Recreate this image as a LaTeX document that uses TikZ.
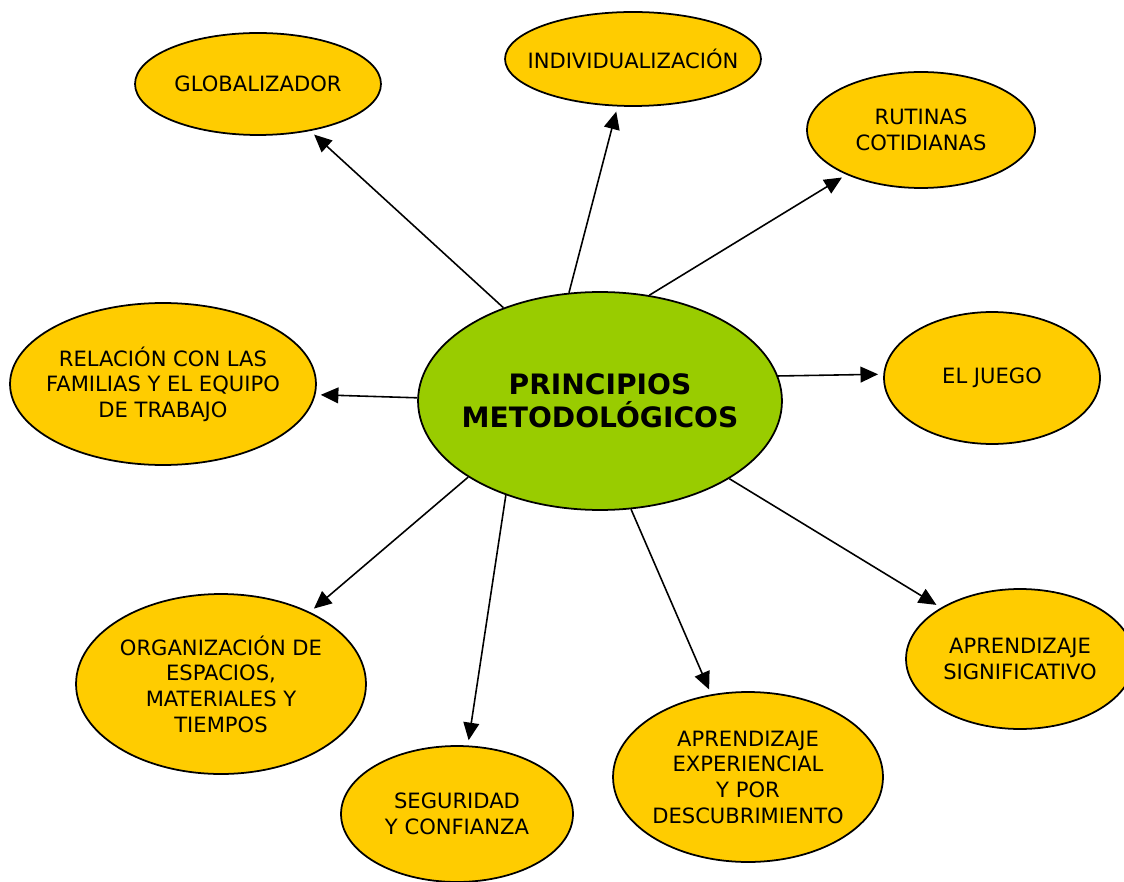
\documentclass[tikz,border=0pt]{standalone}
\usepackage{fontspec}
\setmainfont{DejaVu Sans}
\usetikzlibrary{shapes.geometric,arrows.meta}
\definecolor{amarillo}{HTML}{FFCC00}
\definecolor{verde}{HTML}{99CC00}
\begin{document}
\begin{tikzpicture}[x=0.02cm, y=0.02cm,
  bubble/.style={ellipse, draw=black, line width=1pt, fill=amarillo, align=center,
    inner sep=0pt, inner xsep=-40pt, font=\fontsize{12}{14.6}\selectfont},
  arrow/.style={-{Triangle[length=10pt,width=9pt]}, line width=0.9pt, shorten >=3pt}]
\useasboundingbox (0,0) rectangle (1124,-881);
\node [bubble, fill=verde, minimum width=7.28cm, minimum height=4.36cm,
  font=\fontsize{16}{18.7}\selectfont\bfseries] (c) at (600,-401) {PRINCIPIOS\\METODOLÓGICOS};
\node [bubble, minimum width=4.92cm, minimum height=2.04cm] (glob) at (258,-84) {GLOBALIZADOR};
\node [bubble, minimum width=5.12cm, minimum height=1.88cm] (ind) at (633,-59) {INDIVIDUALIZACIÓN};
\node [bubble, minimum width=4.56cm, minimum height=2.32cm] (rut) at (921,-130) {RUTINAS\\COTIDIANAS};
\node [bubble, minimum width=4.32cm, minimum height=2.64cm] (jue) at (992,-378) {EL JUEGO};
\node [bubble, minimum width=6.12cm, minimum height=3.24cm] (rel) at (163,-384) {RELACIÓN CON LAS\\FAMILIAS Y EL EQUIPO\\DE TRABAJO};
\node [bubble, minimum width=5.80cm, minimum height=3.60cm] (org) at (221,-684) {ORGANIZACIÓN DE\\ESPACIOS,\\MATERIALES Y\\TIEMPOS};
\node [bubble, minimum width=4.64cm, minimum height=2.72cm] (seg) at (457,-814) {SEGURIDAD\\Y CONFIANZA};
\node [bubble, minimum width=5.40cm, minimum height=3.40cm] (exp) at (748,-777) {APRENDIZAJE\\EXPERIENCIAL\\Y POR\\DESCUBRIMIENTO};
\node [bubble, minimum width=4.56cm, minimum height=2.80cm] (sig) at (1020,-659) {APRENDIZAJE\\SIGNIFICATIVO};
\draw [arrow] (c.136.5) -- (glob.318);
\draw [arrow] (c.106.6) -- (ind.252.9);
\draw [arrow] (c.65.9) -- (rut.211.3);
\draw [arrow] (c.8.9) -- (jue.178.5);
\draw [arrow] (c.179) -- (rel.356.7);
\draw [arrow] (c.210.1) -- (org.39.9);
\draw [arrow] (c.225.9) -- (seg.81.5);
\draw [arrow] (c.286.4) -- (exp.114.6);
\draw [arrow] (c.329) -- (sig.147.8);
\end{tikzpicture}
\end{document}
